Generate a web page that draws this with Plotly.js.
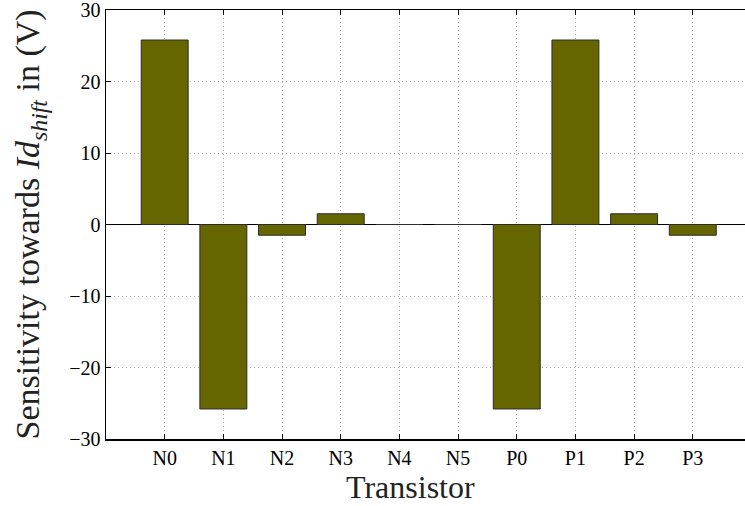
<!DOCTYPE html>
<html>
<head>
<meta charset="utf-8">
<script src="https://cdn.plot.ly/plotly-3.0.1.min.js"></script>
<style>html,body{margin:0;padding:0;background:#fff;overflow:hidden;}#chart{width:745px;height:506px;}</style>
</head>
<body>
<div id="chart"></div>
<script>
const transistors = ["N0","N1","N2","N3","N4","N5","P0","P1","P2","P3"];
const sensitivity = [25.8, -25.8, -1.5, 1.5, 0, 0, -25.8, 25.8, 1.5, -1.5];
const yTicks = [-30, -20, -10, 0, 10, 20, 30];
const xTitle = "Transistor";
const yTitle = "Sensitivity towards <i>Id</i><sub><i>shift</i></sub> in (V)";

const serif = "Liberation Serif, Times New Roman, serif";
const trace = {
  type: "bar",
  x: transistors,
  y: sensitivity,
  width: 0.8,
  marker: {color: "#666600", line: {color: "#2b2b2b", width: 1}},
  hoverinfo: "x+y"
};
const layout = {
  width: 745, height: 506,
  margin: {l: 106, r: 0, t: 10, b: 67},
  paper_bgcolor: "#fff", plot_bgcolor: "#fff",
  showlegend: false,
  xaxis: {
    type: "category",
    range: [-1, 9.89],
    showline: true, linecolor: "#000", linewidth: 1.5, mirror: "ticks",
    ticks: "inside", ticklen: 5, tickcolor: "#000",
    showgrid: true, gridcolor: "#b0b0b0", griddash: "1px,3px", gridwidth: 1,
    tickfont: {family: serif, size: 20, color: "#000"}
  },
  yaxis: {
    range: [-30, 30],
    tickvals: yTicks,
    ticklabeloverflow: "allow",
    showline: true, linecolor: "#000", linewidth: 1.5,
    ticks: "inside", ticklen: 5, tickcolor: "#000",
    showgrid: true, gridcolor: "#b0b0b0", griddash: "1px,3px", gridwidth: 1,
    zeroline: true, zerolinecolor: "#000", zerolinewidth: 1.2,
    tickfont: {family: serif, size: 20, color: "#000"}
  },
  annotations: [
    {text: xTitle, xref: "paper", yref: "paper", x: 0.477, y: -0.112, xanchor: "center", yanchor: "middle",
     showarrow: false, font: {family: serif, size: 32, color: "#222"}},
    {text: yTitle, xref: "paper", yref: "paper", x: -0.119, y: 0.5, xanchor: "center", yanchor: "middle",
     textangle: -90, showarrow: false, font: {family: serif, size: 34, color: "#222"}}
  ]
};
Plotly.newPlot("chart", [trace], layout, {displayModeBar: false, staticPlot: true});
</script>
</body>
</html>
